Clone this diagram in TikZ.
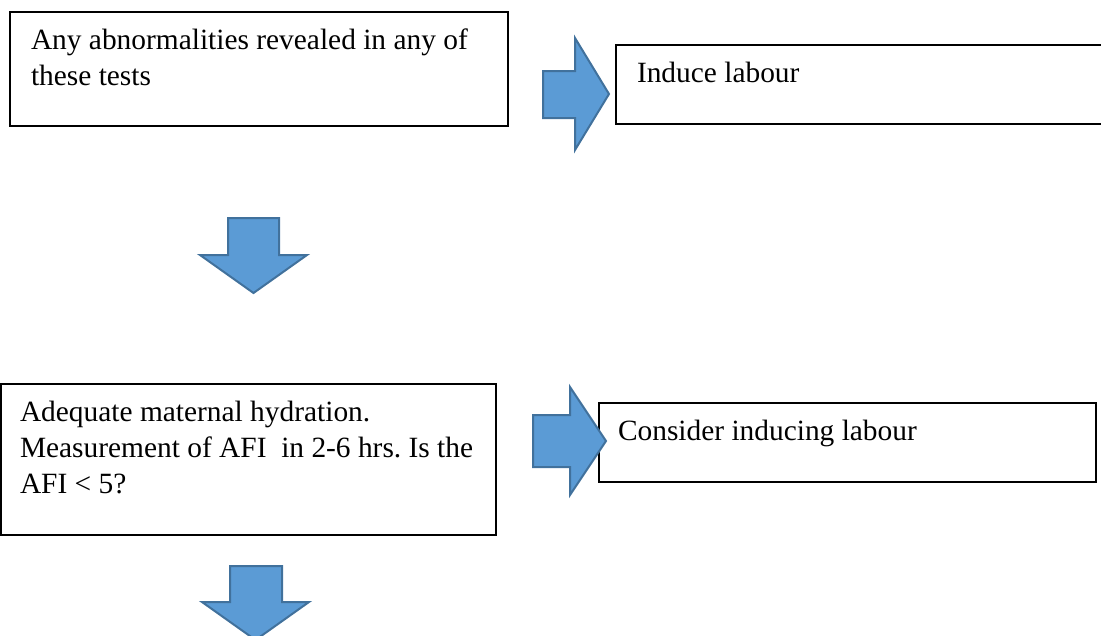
\documentclass[tikz,border=0pt]{standalone}
\usepackage{fontspec}
\setmainfont{Liberation Serif}
\frenchspacing

\definecolor{arrowfill}{HTML}{5B9BD5}
\definecolor{arrowline}{HTML}{41719C}

% text block of fixed size, lines start at the top
\newcommand{\boxlines}[3]{\parbox[c][#1][t]{#2}{\raggedright\strut #3}}

\begin{document}
\begin{tikzpicture}[x=1pt,y=-1pt,
  flow box/.style={draw,line width=1.8pt,anchor=north west,outer sep=0pt,
    inner xsep=21pt,inner ysep=12pt,font=\fontsize{29.4}{36}\selectfont},
  block arrow/.style={fill=arrowfill,draw=arrowline,line width=2pt,line join=miter}]
  \useasboundingbox (0,0) rectangle (1101,635);
  \clip (0,0) rectangle (1101,635);

  \node[flow box] (abnormal) at (10,12)
    {\boxlines{90pt}{456pt}{Any abnormalities revealed in any of\\these tests}};
  \node[flow box] (induce) at (616,45)
    {\boxlines{55pt}{478pt}{Induce labour}};
  \node[flow box, inner xsep=19pt] (hydrate) at (1,384)
    {\boxlines{127pt}{457pt}{Adequate maternal hydration.\\Measurement of AFI~ in 2-6 hrs. Is the\\AFI < 5?}};
  \node[flow box, inner xsep=19pt] (consider) at (599,403)
    {\boxlines{55pt}{459pt}{Consider inducing labour}};

  % block arrows
  \draw[block arrow] (543,71) -- (575,71) -- (575,38) -- (609,94)
    -- (575,150) -- (575,118) -- (543,118) -- cycle;
  \draw[block arrow] (228,218) -- (279,218) -- (279,255) -- (307,255)
    -- (253.5,293) -- (200,255) -- (228,255) -- cycle;
  \draw[block arrow] (533,415) -- (570,415) -- (570,387) -- (606,441)
    -- (570,495) -- (570,467) -- (533,467) -- cycle;
  \draw[block arrow] (230,566) -- (282,566) -- (282,602) -- (309,602)
    -- (255.5,640) -- (202,602) -- (230,602) -- cycle;
\end{tikzpicture}
\end{document}
